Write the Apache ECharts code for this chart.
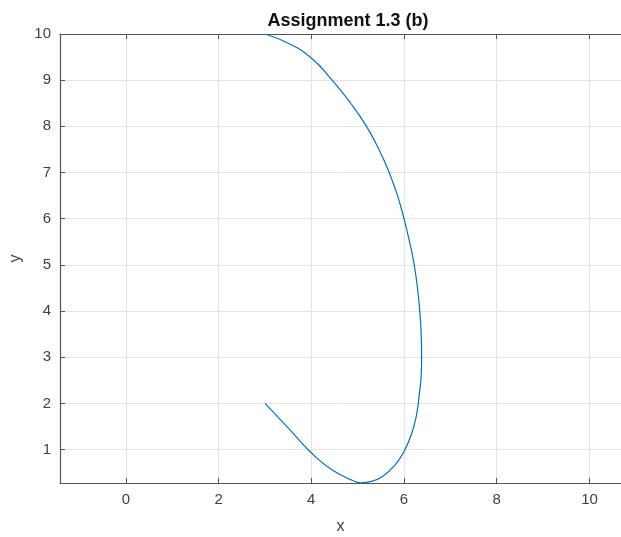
<!DOCTYPE html>
<html>
<head>
<meta charset="utf-8">
<script src="https://cdn.jsdelivr.net/npm/echarts@6/dist/echarts.min.js"></script>
<style>
  html, body { margin: 0; padding: 0; background: #fff; }
  #chart { width: 621px; height: 537px; }
</style>
</head>
<body>
<div id="chart"></div>
<script>
// points along the curve
var xs = [3.0, 3.5, 4.0, 4.42, 4.85, 5.08, 5.3, 5.55, 5.8, 6.0, 6.16, 6.27, 6.33, 6.37, 6.38, 6.37, 6.34, 6.29, 6.22, 6.12, 6.0, 5.86, 5.68, 5.46, 5.19, 4.85, 4.45, 4.0, 3.5, 3.0]
var ys = [2.0, 1.47, 0.93, 0.58, 0.35, 0.28, 0.31, 0.43, 0.66, 0.96, 1.33, 1.75, 2.2, 2.6, 3.0, 3.5, 4.0, 4.5, 5.0, 5.5, 6.0, 6.5, 7.0, 7.5, 8.0, 8.5, 9.0, 9.48, 9.8, 10.0]
var xTicks = [0, 2, 4, 6, 8, 10]
var yTicks = [1, 2, 3, 4, 5, 6, 7, 8, 9, 10]

var pts = []
for (let i = 0; i < xs.length; i++) {
  pts.push([xs[i], ys[i]])
}

var axisCol = '#555555'
var textCol = '#404040'
var font = '"Liberation Sans", Arial, sans-serif'

var myChart = echarts.init(document.getElementById('chart'))
var option = {
  animation: false,
  title: {
    text: 'Assignment 1.3 (b)',
    left: 343,
    top: 7,
    textAlign: 'center',
    textStyle: { fontFamily: font, fontWeight: 'bold', fontSize: 18, color: '#111' }
  },
  grid: { left: 60, top: 34, right: 0, bottom: 54, outerBoundsMode: 'none' },
  xAxis: [
    {
      type: 'value',
      min: -1.42,
      max: 10.68,
      name: 'x',
      nameLocation: 'middle',
      nameGap: 36,
      nameTextStyle: { fontFamily: font, fontSize: 16, color: textCol },
      axisLine: { onZero: false, lineStyle: { color: axisCol, width: 1.2 } },
      axisTick: { inside: true, length: 5, customValues: xTicks, lineStyle: { color: axisCol } },
      axisLabel: { customValues: xTicks, margin: 9, fontFamily: font, fontSize: 15, color: textCol },
      splitLine: { show: true, lineStyle: { color: '#e3e3e3' } }
    },
    {
      type: 'value',
      position: 'top',
      min: -1.42,
      max: 10.68,
      axisLine: { show: true, onZero: false, lineStyle: { color: axisCol, width: 1.2 } },
      axisTick: { inside: true, length: 5, customValues: xTicks, lineStyle: { color: axisCol } },
      axisLabel: { show: false },
      splitLine: { show: false }
    }
  ],
  yAxis: {
    type: 'value',
    min: 0.276,
    max: 10,
    name: 'y',
    nameLocation: 'middle',
    nameGap: 34,
    nameRotate: 90,
    nameTextStyle: { fontFamily: font, fontSize: 16, color: textCol },
    axisLine: { show: true, onZero: false, lineStyle: { color: axisCol, width: 1.2 } },
    axisTick: { show: true, inside: true, length: 5, customValues: yTicks, lineStyle: { color: axisCol } },
    axisLabel: { customValues: yTicks, margin: 9, fontFamily: font, fontSize: 15, color: textCol },
    splitLine: { show: true, lineStyle: { color: '#e3e3e3' } }
  },
  series: [
    {
      type: 'line',
      data: pts,
      smooth: 0.5,
      showSymbol: false,
      lineStyle: { color: '#0072BD', width: 1.2 }
    }
  ]
}
myChart.setOption(option)
</script>
</body>
</html>
